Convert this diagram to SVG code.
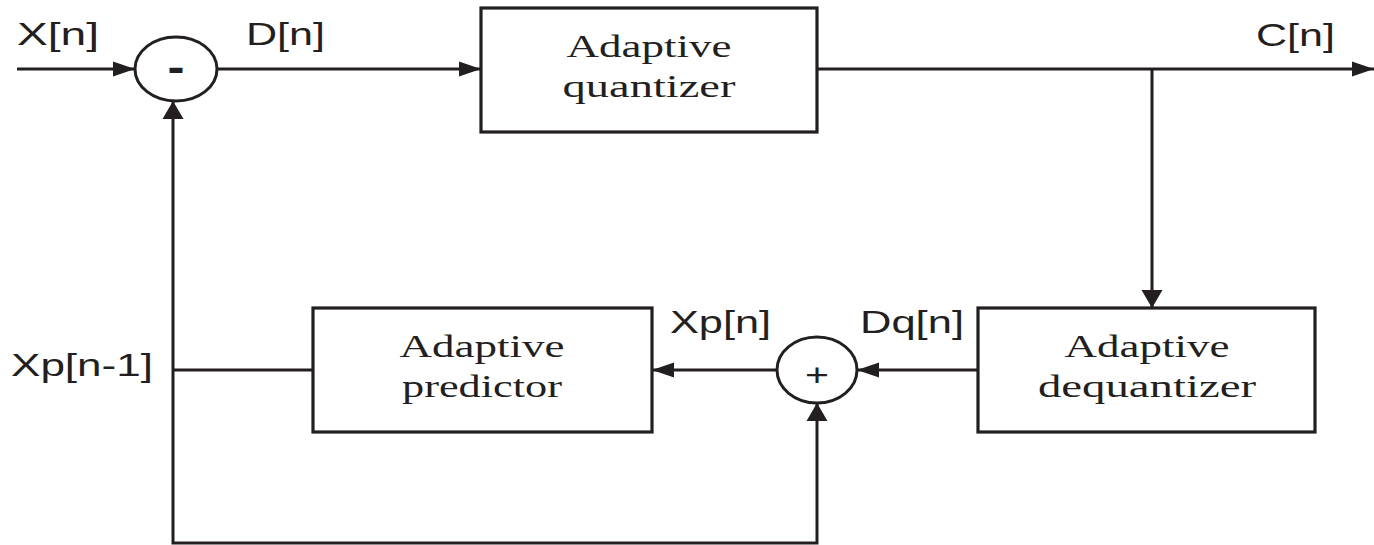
<svg xmlns="http://www.w3.org/2000/svg" width="1374" height="545" viewBox="0 0 1374 545">
  <style>
    .box { fill: #ffffff; stroke: #231f20; stroke-width: 3.2; }
    .sum { fill: #ffffff; stroke: #231f20; stroke-width: 3; }
    .wire { fill: none; stroke: #231f20; stroke-width: 3; }
    .sig { font-family: "Liberation Sans", Arial, sans-serif; font-size: 32px; fill: #231f20; }
    .name { font-family: "Liberation Serif", "Times New Roman", serif; font-size: 32px; fill: #231f20; text-anchor: middle; }
    .op { font-family: "Liberation Sans", Arial, sans-serif; fill: #231f20; text-anchor: middle; }
  </style>
  <defs>
    <!-- arrowheads on horizontal runs are long and narrow -->
    <marker id="arrowH" markerUnits="userSpaceOnUse" markerWidth="22" markerHeight="16" refX="22" refY="8" orient="auto-start-reverse">
      <path d="M0 0.5 L22 8 L0 15.5 Z" fill="#231f20"/>
    </marker>
    <!-- arrowheads on vertical runs are shorter and wider -->
    <marker id="arrowV" markerUnits="userSpaceOnUse" markerWidth="18" markerHeight="22" refX="18" refY="11" orient="auto-start-reverse">
      <path d="M0 0.5 L18 11 L0 21.5 Z" fill="#231f20"/>
    </marker>
  </defs>

  <rect width="1374" height="545" fill="#ffffff"/>

  <g id="connectors">
    <path class="wire" d="M17 69 H135" marker-end="url(#arrowH)"/>
    <path class="wire" d="M217 69 H481" marker-end="url(#arrowH)"/>
    <path class="wire" d="M817 69 H1374" marker-end="url(#arrowH)"/>
    <path class="wire" d="M1152 69 V308" marker-end="url(#arrowV)"/>
    <path class="wire" d="M978 370 H857" marker-end="url(#arrowH)"/>
    <path class="wire" d="M777 370 H652" marker-end="url(#arrowH)"/>
    <path class="wire" d="M313 370 H173"/>
    <path class="wire" d="M173 101 V543 H817 V403" marker-start="url(#arrowV)" marker-end="url(#arrowV)"/>
  </g>

  <g id="subtractor">
    <ellipse class="sum" cx="176" cy="69" rx="41" ry="32"/>
    <text class="op" x="176" y="82" font-size="44" font-weight="bold" textLength="17" lengthAdjust="spacingAndGlyphs">-</text>
  </g>

  <g id="quantizer">
    <rect class="box" x="481" y="8" width="336" height="124"/>
    <text class="name" x="649" y="57" textLength="165" lengthAdjust="spacingAndGlyphs">Adaptive</text>
    <text class="name" x="649" y="97" textLength="173" lengthAdjust="spacingAndGlyphs">quantizer</text>
  </g>

  <g id="dequantizer">
    <rect class="box" x="978" y="308" width="337" height="124"/>
    <text class="name" x="1147" y="357" textLength="165" lengthAdjust="spacingAndGlyphs">Adaptive</text>
    <text class="name" x="1147" y="397" textLength="218" lengthAdjust="spacingAndGlyphs">dequantizer</text>
  </g>

  <g id="adder">
    <ellipse class="sum" cx="817" cy="370" rx="40" ry="33"/>
    <text class="op" x="817" y="386" font-size="32" textLength="24" lengthAdjust="spacingAndGlyphs">+</text>
  </g>

  <g id="predictor">
    <rect class="box" x="313" y="308" width="339" height="124"/>
    <text class="name" x="482" y="357" textLength="165" lengthAdjust="spacingAndGlyphs">Adaptive</text>
    <text class="name" x="482" y="397" textLength="160" lengthAdjust="spacingAndGlyphs">predictor</text>
  </g>

  <g id="labels">
    <text class="sig" x="17" y="45" textLength="82" lengthAdjust="spacingAndGlyphs">X[n]</text>
    <text class="sig" x="246" y="45" textLength="79" lengthAdjust="spacingAndGlyphs">D[n]</text>
    <text class="sig" x="1256" y="46" textLength="79" lengthAdjust="spacingAndGlyphs">C[n]</text>
    <text class="sig" x="670" y="333" textLength="101" lengthAdjust="spacingAndGlyphs">Xp[n]</text>
    <text class="sig" x="860" y="333" textLength="104" lengthAdjust="spacingAndGlyphs">Dq[n]</text>
    <text class="sig" x="11" y="376" textLength="142" lengthAdjust="spacingAndGlyphs">Xp[n-1]</text>
  </g>
</svg>
